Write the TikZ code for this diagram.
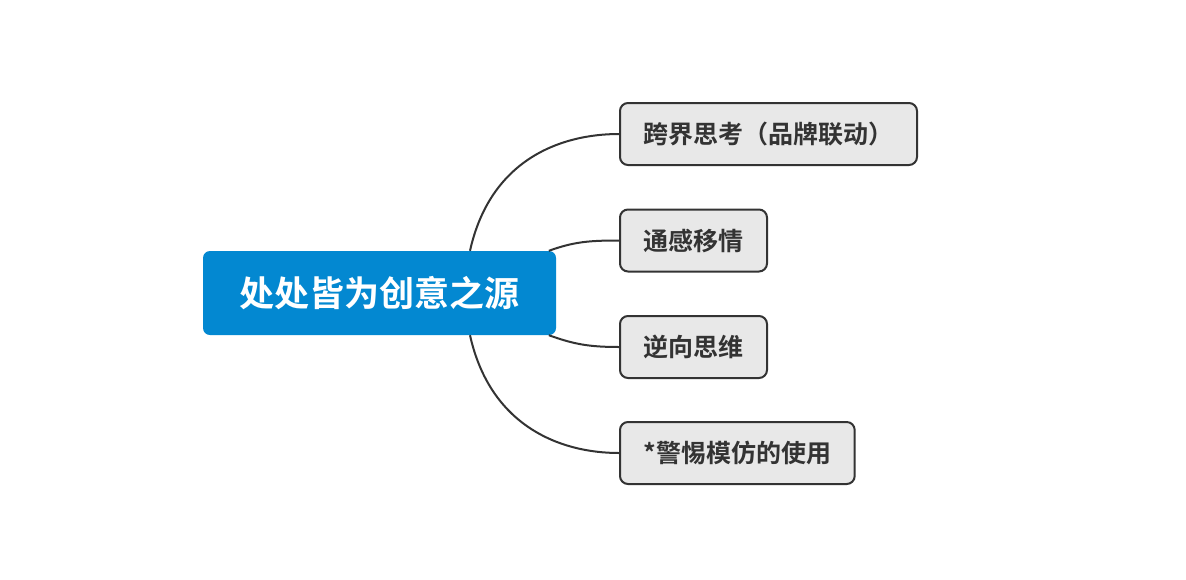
\documentclass[tikz,border=0pt]{standalone}
\usepackage{fontspec}
\setmainfont{Noto Sans CJK SC}[BoldFont={Noto Sans CJK SC Bold}]
\definecolor{rootblue}{HTML}{0388D1}
\definecolor{topicgray}{HTML}{E8E8E8}
\definecolor{linegray}{HTML}{333333}
\begin{document}
\begin{tikzpicture}[x=1pt, y=-1pt,
    root/.style={fill=rootblue, rounded corners=7pt, minimum width=353pt, minimum height=84pt,
        text=white, font=\fontsize{35}{40}\selectfont\bfseries},
    topic/.style={anchor=west, fill=topicgray, draw=linegray, line width=2pt, rounded corners=8pt,
        minimum height=62pt, inner xsep=23.5pt, text=linegray, font=\fontsize{25}{28}\selectfont\bfseries},
    branch/.style={draw=linegray, line width=2pt}]
    \useasboundingbox (0,0) rectangle (1186,579);
    \fill[white] (0,0) rectangle (1186,579);

    \node[root] (root) at (379.5,293) {处处皆为创意之源};

    \node[topic] (kua) at (619,134) {跨界思考（品牌联动）};
    \node[topic] (tong) at (619,240.5) {通感移情};
    \node[topic] (ni) at (619,347) {逆向思维};
    \node[topic] (jing) at (619,453) {*警惕模仿的使用};

    % branches from the root
    \draw[branch] (root.25) .. controls +(20,-90) and +(-60,0) .. (kua.west);
    \draw[branch] (root.14) .. controls +(25,-9) and +(-30,0) .. (tong.west);
    \draw[branch] (root.-14) .. controls +(25,9) and +(-30,0) .. (ni.west);
    \draw[branch] (root.-25) .. controls +(20,90) and +(-60,0) .. (jing.west);
\end{tikzpicture}
\end{document}
